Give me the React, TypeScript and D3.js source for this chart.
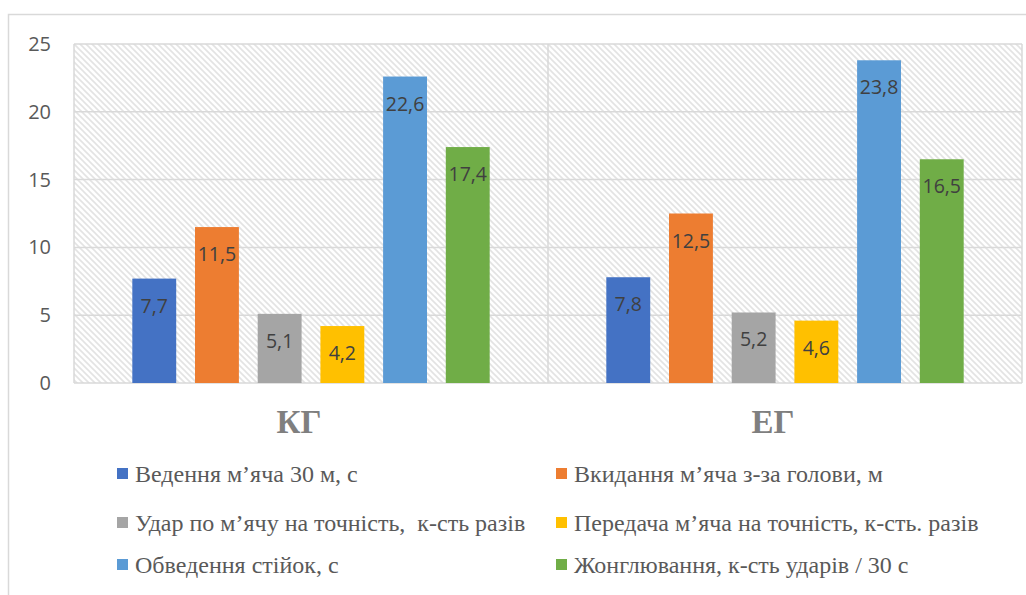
import React from "react";
import * as d3 from "d3";

const groups = ["КГ", "ЕГ"];
const seriesNames = [
  "Ведення м’яча 30 м, с",
  "Вкидання м’яча з-за голови, м",
  "Удар по м’ячу на точність,  к-сть разів",
  "Передача м’яча на точність, к-сть. разів",
  "Обведення стійок, с",
  "Жонглювання, к-сть ударів / 30 с",
];
const seriesColors = ["#4472C4", "#ED7D31", "#A5A5A5", "#FFC000", "#5B9BD5", "#70AD47"];
const valuesKG = [7.7, 11.5, 5.1, 4.2, 22.6, 17.4];
const valuesEG = [7.8, 12.5, 5.2, 4.6, 23.8, 16.5];
const yTicks = [0, 5, 10, 15, 20, 25];

const W = 1026;
const H = 595;
const plot = { left: 74, right: 1022, top: 44, bottom: 383 };

export default function App() {
  const x0 = d3.scaleBand<string>().domain(groups).range([plot.left, plot.right]).padding(0);
  const x1 = d3
    .scaleBand<number>()
    .domain(d3.range(seriesNames.length))
    .range([0, x0.bandwidth()])
    .paddingInner(0.3)
    .paddingOuter(0.93);
  const y = d3.scaleLinear().domain([0, 25]).range([plot.bottom, plot.top]);
  const data = [valuesKG, valuesEG];
  const fmt = (v: number) => v.toFixed(1).replace(".", ",");

  const legendRows = [474, 523, 565];
  const legendCols = [117, 556];

  return (
    <svg
      width={W}
      height={H}
      style={{ position: "absolute", left: 0, top: 0, background: "#fff" }}
      fontFamily="'Open Sans', sans-serif"
    >
      <defs>
        <pattern id="hatch" width={6} height={6} patternUnits="userSpaceOnUse">
          <rect width={6} height={6} fill="#fff" />
          <path d="M0,0 L6,6 M-1,5 L1,7 M5,-1 L7,1" stroke="#e3e3e3" strokeWidth={1.6} />
        </pattern>
      </defs>
      <rect x={8.5} y={14.5} width={W + 10} height={H + 10} fill="#fff" stroke="#d9d9d9" strokeWidth={1.5} />
      <rect
        x={plot.left}
        y={plot.top}
        width={plot.right - plot.left}
        height={plot.bottom - plot.top}
        fill="url(#hatch)"
      />
      {yTicks.map((t) => (
        <g key={t}>
          <line x1={plot.left} x2={plot.right} y1={y(t)} y2={y(t)} stroke="#d9d9d9" strokeWidth={1.5} />
          <text x={51} y={y(t) + 7} textAnchor="end" fontSize={20} fill="#595959">
            {t}
          </text>
        </g>
      ))}
      {[plot.left, x0(groups[1])!, plot.right].map((xx, i) => (
        <line key={i} x1={xx} x2={xx} y1={plot.top} y2={plot.bottom} stroke="#d9d9d9" strokeWidth={1.5} />
      ))}
      {groups.map((g, gi) => (
        <g key={g} transform={`translate(${x0(g)},0)`}>
          {data[gi].map((v, si) => (
            <g key={si}>
              <rect
                x={x1(si)}
                y={y(v)}
                width={x1.bandwidth()}
                height={y(0) - y(v)}
                fill={seriesColors[si]}
              />
              <text
                x={x1(si)! + x1.bandwidth() / 2}
                y={y(v) + 34}
                textAnchor="middle"
                fontSize={19.5}
                fill="#404040"
              >
                {fmt(v)}
              </text>
            </g>
          ))}
          <text
            x={x0.bandwidth() / 2 - 12}
            y={433}
            textAnchor="middle"
            fontFamily="'Liberation Serif', 'Times New Roman', serif"
            fontWeight="bold"
            fontSize={33}
            fill="#7f7f7f"
          >
            {g}
          </text>
        </g>
      ))}
      {seriesNames.map((name, i) => {
        const col = i % 2;
        const row = Math.floor(i / 2);
        const lx = legendCols[col];
        const ly = legendRows[row];
        return (
          <g key={name}>
            <rect x={lx} y={ly - 6} width={11} height={11} fill={seriesColors[i]} />
            <text
              x={lx + 18}
              y={ly + 8}
              fontFamily="'Liberation Serif', 'Times New Roman', serif"
              fontSize={24}
              fill="#595959"
              style={{ whiteSpace: "pre" }}
            >
              {name}
            </text>
          </g>
        );
      })}
    </svg>
  );
}
